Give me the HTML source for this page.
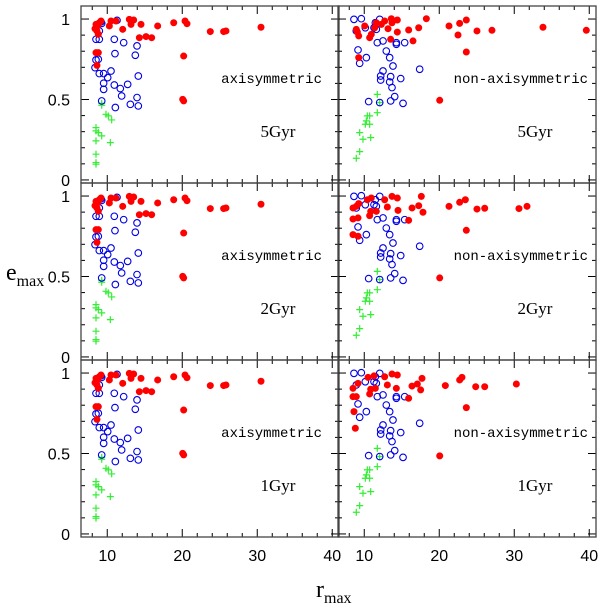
<!DOCTYPE html>
<html><head><meta charset="utf-8"><style>
html,body{margin:0;padding:0;background:#fff;}
svg{display:block;}
</style></head><body>
<svg id="chart" width="600" height="608" viewBox="0 0 600 608" xmlns="http://www.w3.org/2000/svg"></svg>
<script>
// ---- data (x = r_max, y = e_max) ----
const xTickLabels = ["10","20","30","40"];
const xTicks = [10,20,30,40];
const yTickLabels = ["0","0.5","1"];
const yTicks = [0,0.5,1];
const rowLabels = ["5Gyr","2Gyr","1Gyr"];

const axiRedX = [8.5,8.72,8.37,8.63,8.81,8.94,9.17,8.5,8.81,8.63,10.5,10.28,11.17,12.06,12.94,13.52,13.17,14.5,14.28,15.17,15.92,16.72,18.86,20.37,20.63,20.19,20.06,20.19,23.74,25.52,25.83,30.5];
const axiRedY = [0.967,0.957,0.94,0.926,0.905,0.977,0.988,0.791,0.791,0.712,0.988,0.957,0.988,0.936,0.998,0.994,0.967,0.967,0.884,0.891,0.884,0.957,0.977,0.988,0.971,0.77,0.501,0.491,0.922,0.922,0.926,0.949];
const axiBlueX = [9.17,9.26,8.94,8.5,8.94,10.94,12.19,13.97,11.03,13.74,8.5,8.81,8.37,8.94,9.52,10.5,10.06,9.52,9.52,10.94,11.74,12.72,14.14,11.92,9.26,11.08,13.08,13.97,14.14,11.3];
const axiBlueY = [0.982,0.973,0.926,0.874,0.874,0.874,0.853,0.833,0.785,0.775,0.746,0.75,0.698,0.661,0.661,0.677,0.636,0.601,0.563,0.59,0.568,0.594,0.646,0.522,0.491,0.45,0.47,0.512,0.46,0.992];
const axiGreenX = [9.26,9.26,9.83,10.14,10.59,8.5,8.5,8.81,9.26,8.5,10.41,8.5,8.5,8.5];
const axiGreenY = [0.476,0.464,0.408,0.398,0.373,0.325,0.305,0.294,0.274,0.243,0.232,0.16,0.108,0.098];

const non5RedX = [8.94,9.26,9.08,10.06,10.72,10.94,11.39,11.61,12.28,12.72,13.17,13.61,13.7,14.41,14.41,13.52,15.92,16.5,17.26,18.28,21.3,22.5,22.72,23.61,23.61,25.03,27.03,33.83,39.61,9.26,20.06];
const non5RedY = [0.936,0.895,0.919,0.957,0.884,0.905,0.946,0.977,0.967,0.988,0.94,1.002,0.977,0.994,0.919,0.874,0.932,0.864,0.946,1.002,0.957,0.901,0.973,0.994,0.795,0.926,0.93,0.949,0.93,0.76,0.495];
const non2RedX = [8.5,8.94,9.26,8.5,9.17,8.5,9.17,10.41,10.94,10.86,10.72,11.61,12.72,13.08,13.7,14.41,14.5,15.92,16.37,17.26,17.61,17.83,21.3,22.72,23.48,23.61,25.03,26.06,30.63,31.7,20.06];
const non2RedY = [0.926,0.936,0.953,0.857,0.864,0.76,0.75,0.977,0.988,0.905,0.878,0.905,0.977,0.932,0.998,0.988,0.911,0.849,0.926,0.94,0.998,0.899,0.936,0.961,0.977,0.787,0.919,0.924,0.922,0.936,0.491];
const non1RedX = [8.5,9.17,8.5,8.94,8.63,8.81,10.5,11.3,10.72,10.86,11.48,12.72,13.08,13.7,14.41,14.28,15.92,16.37,17.08,17.7,17.52,20.81,22.72,23.03,23.61,24.86,26.06,30.28,20.06];
const non1RedY = [0.905,0.936,0.853,0.853,0.76,0.657,0.973,0.982,0.87,0.899,0.905,0.977,0.926,0.994,0.988,0.905,0.843,0.919,0.932,0.967,0.895,0.922,0.957,0.973,0.785,0.915,0.915,0.932,0.485];
const nonBlueX = [8.63,9.61,8.94,10.14,11.3,11.48,12.06,11.74,12.5,14.28,14.28,15.39,9.17,10.28,12.94,13.39,9.39,13.83,12.5,12.19,12.19,13.52,14.86,13.39,13.7,14.06,10.59,12.06,13.52,15.17,17.39,11.61];
const nonBlueY = [0.998,1.002,0.926,0.946,0.946,0.977,0.998,0.853,0.864,0.853,0.843,0.853,0.808,0.76,0.801,0.76,0.725,0.708,0.677,0.646,0.621,0.642,0.63,0.609,0.574,0.518,0.487,0.481,0.491,0.476,0.688,0.936];
const nonGreenX = [11.74,12.06,11.74,10.41,10.72,10.14,10.72,9.39,9.83,10.86,9.39,8.94,10.28];
const nonGreenY = [0.532,0.481,0.418,0.398,0.398,0.346,0.346,0.294,0.253,0.263,0.176,0.135,0.367];

// ---- layout ----
const NS = "http://www.w3.org/2000/svg";
const svg = document.getElementById("chart");
const colLeft = [81, 338], panelW = 258;
const rowTop = [6, 183, 360], panelH = 177;
const xMin = 6.5, xMax = 40.9, yMin = -0.019, yMax = 1.081;
function mk(tag, attrs, parent){const e=document.createElementNS(NS,tag);for(const k in attrs)e.setAttribute(k,attrs[k]);(parent||svg).appendChild(e);return e;}
function xs(c, v){return colLeft[c] + (v - xMin)/(xMax - xMin)*panelW;}
function ys(r, v){return rowTop[r] + (yMax - v)/(yMax - yMin)*panelH;}

const panels = [
  {r:0,c:0,red:[axiRedX,axiRedY],blue:[axiBlueX,axiBlueY],green:[axiGreenX,axiGreenY],label:"axisymmetric"},
  {r:0,c:1,red:[non5RedX,non5RedY],blue:[nonBlueX,nonBlueY],green:[nonGreenX,nonGreenY],label:"non-axisymmetric"},
  {r:1,c:0,red:[axiRedX,axiRedY],blue:[axiBlueX,axiBlueY],green:[axiGreenX,axiGreenY],label:"axisymmetric"},
  {r:1,c:1,red:[non2RedX,non2RedY],blue:[nonBlueX,nonBlueY],green:[nonGreenX,nonGreenY],label:"non-axisymmetric"},
  {r:2,c:0,red:[axiRedX,axiRedY],blue:[axiBlueX,axiBlueY],green:[axiGreenX,axiGreenY],label:"axisymmetric"},
  {r:2,c:1,red:[non1RedX,non1RedY],blue:[nonBlueX,nonBlueY],green:[nonGreenX,nonGreenY],label:"non-axisymmetric"}
];

panels.forEach(p=>{
  const g = mk("g",{});
  
  
  const L = colLeft[p.c], T = rowTop[p.r], R = L+panelW, B = T+panelH;
  for(let v=8; v<=40; v+=2){
    const x = xs(p.c, v), len = (v%10===0)?8:4;
    mk("line",{x1:x,y1:B,x2:x,y2:B-len,stroke:"#000","stroke-width":1},g);
    mk("line",{x1:x,y1:T,x2:x,y2:T+len,stroke:"#000","stroke-width":1},g);
  }
  for(let i=0;i<=10;i++){
    const v=i/10, y=ys(p.r,v), len=(i%5===0)?8:4;
    mk("line",{x1:L,y1:y,x2:L+len,y2:y,stroke:"#000","stroke-width":1},g);
    mk("line",{x1:R,y1:y,x2:R-len,y2:y,stroke:"#000","stroke-width":1},g);
  }
  p.green[0].forEach((xv,i)=>{
    const x=xs(p.c,xv), y=ys(p.r,p.green[1][i]);
    const pl=mk("path",{d:`M${x-3.5},${y}H${x+3.5}M${x},${y-3.5}V${y+3.5}`,stroke:"#33ee33","stroke-width":1.2,fill:"none"},g);
    
    
  });
  p.blue[0].forEach((xv,i)=>{
    const c=mk("circle",{cx:xs(p.c,xv),cy:ys(p.r,p.blue[1][i]),r:3.3,fill:"none",stroke:"#0000e6","stroke-width":1.1},g);
    
    
  });
  p.red[0].forEach((xv,i)=>{
    const c=mk("circle",{cx:xs(p.c,xv),cy:ys(p.r,p.red[1][i]),r:3.5,fill:"#f00"},g);
    
    
  });
  const fr=mk("rect",{x:L,y:T,width:panelW,height:panelH,fill:"none",stroke:"#444","stroke-width":1.3},g);
  
  
  const t1=mk("text",{x:p.c===0?R-17:R-8,y:T+77,"text-anchor":"end","font-family":"Liberation Mono, monospace","font-size":14},g);
  t1.textContent=p.label;
  
  
  const t2=mk("text",{x:L+197,y:T+131,"text-anchor":"middle","font-family":"Liberation Serif, serif","font-size":17},g);
  t2.textContent=rowLabels[p.r];
  
  
  if(p.c===0){
    yTicks.forEach((v,i)=>{
      const t=mk("text",{x:70,y:ys(p.r,v)+6,"text-anchor":"end","font-family":"Liberation Sans, sans-serif","font-size":16},g);
      t.textContent=yTickLabels[i];
      
      
    });
  }
  if(p.r===2){
    xTicks.forEach((v,i)=>{
      const t=mk("text",{x:xs(p.c,v),y:561,"text-anchor":"middle","font-family":"Liberation Sans, sans-serif","font-size":16},g);
      t.textContent=xTickLabels[i];
      
      
    });
  }
});

const yt=mk("text",{x:6,y:280,"font-family":"Liberation Serif, serif","font-size":24});


yt.innerHTML='e<tspan dy="6" font-size="16">max</tspan>';
const xt=mk("text",{x:316,y:597,"font-family":"Liberation Serif, serif","font-size":24});


xt.innerHTML='r<tspan dy="6" font-size="16">max</tspan>';
</script>
</body></html>
